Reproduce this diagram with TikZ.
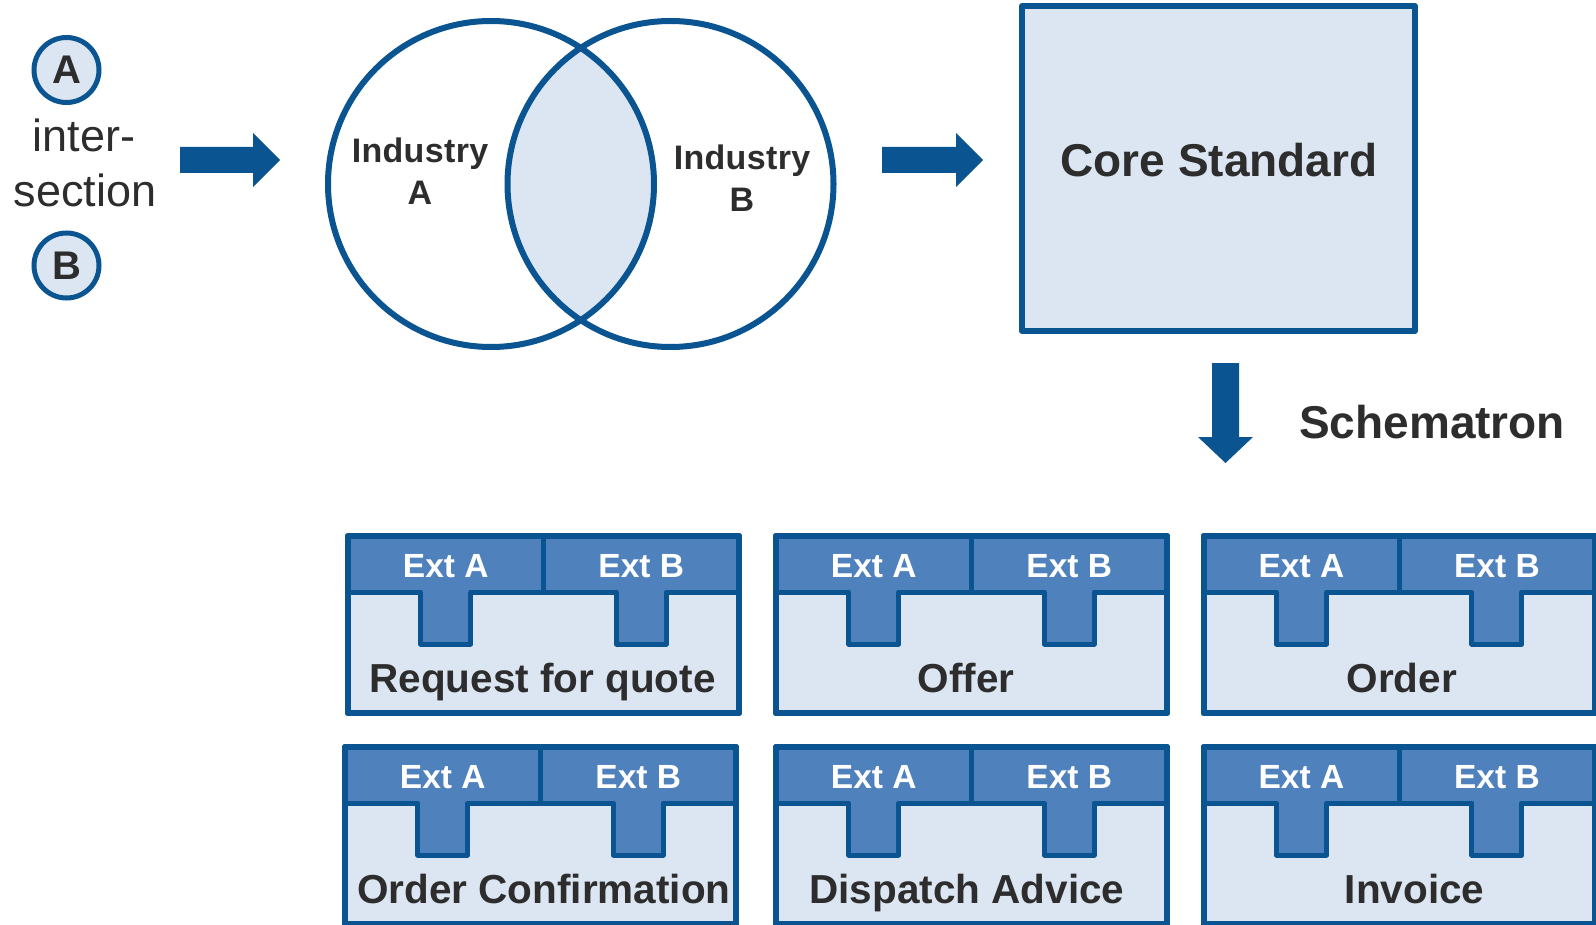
\documentclass[tikz,border=0pt]{standalone}
\usepackage{fontspec}
\setmainfont{Liberation Sans}
\usetikzlibrary{calc}
\definecolor{darkb}{RGB}{10,84,145}
\definecolor{medb}{RGB}{79,129,189}
\definecolor{lightb}{RGB}{220,230,242}
\definecolor{textc}{RGB}{45,45,45}
\newcommand\fs[1]{\fontsize{#1}{#1}\selectfont}
\tikzset{
  modbody/.style={fill=lightb, draw=darkb, line width=6pt, line join=round},
  modhead/.style={fill=medb, draw=darkb, line width=5pt, line join=round},
  modborder/.style={draw=darkb, line width=6pt, line join=round},
  extlabel/.style={anchor=base, text=white, font=\fs{33.5}\bfseries, inner sep=0pt},
  modlabel/.style={anchor=base, text=textc, font=\fs{40.5}\bfseries, inner sep=0pt},
  ballnode/.style={circle, fill=lightb, draw=darkb, line width=5pt, minimum size=65pt, inner sep=0pt, text=textc, font=\fs{40}\bfseries},
  venn/.style={draw=darkb, line width=6pt},
  plaintext/.style={anchor=base, text=textc, inner sep=0pt},
  arrowfill/.style={fill=darkb},
}
% #1 name, #2 left, #3 top, #4 label, #5 label x offset
\newcommand\modblock[5]{%
  \begin{scope}[shift={(#2,#3)}]
    \path[modbody] (0,0) rectangle (391,177);
    \path[modhead] (0,0) -- (391,0) -- (391,56) -- (318.25,56) -- (318.25,108)
      -- (268.25,108) -- (268.25,56) -- (122.75,56) -- (122.75,108)
      -- (72.75,108) -- (72.75,56) -- (0,56) -- cycle;
    \draw[darkb, line width=5pt] (195.5,0) -- (195.5,56);
    \path[modborder] (0,0) rectangle (391,177);
    \node[extlabel] (#1-a) at (97.75,41) {Ext A};
    \node[extlabel] (#1-b) at (293.25,41) {Ext B};
    \node[modlabel] (#1) at (#5,156) {#4};
  \end{scope}}
% horizontal block arrow from named coordinate #1 (shaft start) to #2 (tip)
\newcommand\harrow[2]{%
  \fill[arrowfill] ($(#1)+(0,-13)$) -- ($(#2)+(-27,-13)$) -- ($(#2)+(-27,-27)$)
    -- (#2) -- ($(#2)+(-27,27)$) -- ($(#2)+(-27,13)$) -- ($(#1)+(0,13)$) -- cycle;}
\begin{document}
\begin{tikzpicture}[x=1pt, y=-1pt]
\useasboundingbox (0,0) rectangle (1596,925);
\fill[white] (0,0) rectangle (1596,925);

% left legend
\node[ballnode] (ballA) at (66.5,70) {A};
\node[ballnode] (ballB) at (66.5,265.5) {B};
\node[plaintext, font=\fs{45}] (inter) at (84,152) {inter-};
\node[plaintext, font=\fs{45}] (section) at (85,207) {section};

% arrow 1
\coordinate (a1s) at (180,160);
\coordinate (a1e) at (280,160);
\harrow{a1s}{a1e}

% Venn diagram
\coordinate (cA) at (491,184);
\coordinate (cB) at (670.5,184);
\begin{scope}
  \clip (cA) circle (163);
  \fill[lightb] (cB) circle (163);
\end{scope}
\draw[venn] (cA) circle (163);
\draw[venn] (cB) circle (163);
\node[plaintext, font=\fs{34}\bfseries\addfontfeature{LetterSpace=1}] (indA1) at (420,163) {Industry};
\node[plaintext, font=\fs{34}\bfseries] (indA2) at (420,205) {A};
\node[plaintext, font=\fs{34}\bfseries\addfontfeature{LetterSpace=1}] (indB1) at (742,170) {Industry};
\node[plaintext, font=\fs{34}\bfseries] (indB2) at (742,212) {B};

% arrow 2
\coordinate (a2s) at (882,160);
\coordinate (a2e) at (983,160);
\harrow{a2s}{a2e}

% Core standard
\draw[fill=lightb, draw=darkb, line width=6pt, line join=round] (1022,6) rectangle (1415,331);
\node[plaintext, font=\fs{46}\bfseries] (core) at (1219,177) {Core Standard};

% down arrow
\coordinate (a3s) at (1225.5,363);
\coordinate (a3e) at (1225.5,463);
\fill[arrowfill] ($(a3s)+(-13.5,0)$) -- ($(a3e)+(-13.5,-26)$) -- ($(a3e)+(-27.5,-26)$)
  -- (a3e) -- ($(a3e)+(27.5,-26)$) -- ($(a3e)+(13.5,-26)$) -- ($(a3s)+(13.5,0)$) -- cycle;
\node[plaintext, anchor=base west, font=\fs{46}\bfseries] (schem) at (1299,438) {Schematron};

% modules
\modblock{rfq}{348}{536}{Request for quote}{194.5}
\modblock{offer}{776}{536}{Offer}{190}
\modblock{order}{1203.7}{536}{Order}{198}
\modblock{oconf}{345}{747}{Order Confirmation}{199}
\modblock{disp}{776}{747}{Dispatch Advice}{191}
\modblock{inv}{1203.7}{747}{Invoice}{211}
\end{tikzpicture}
\end{document}
